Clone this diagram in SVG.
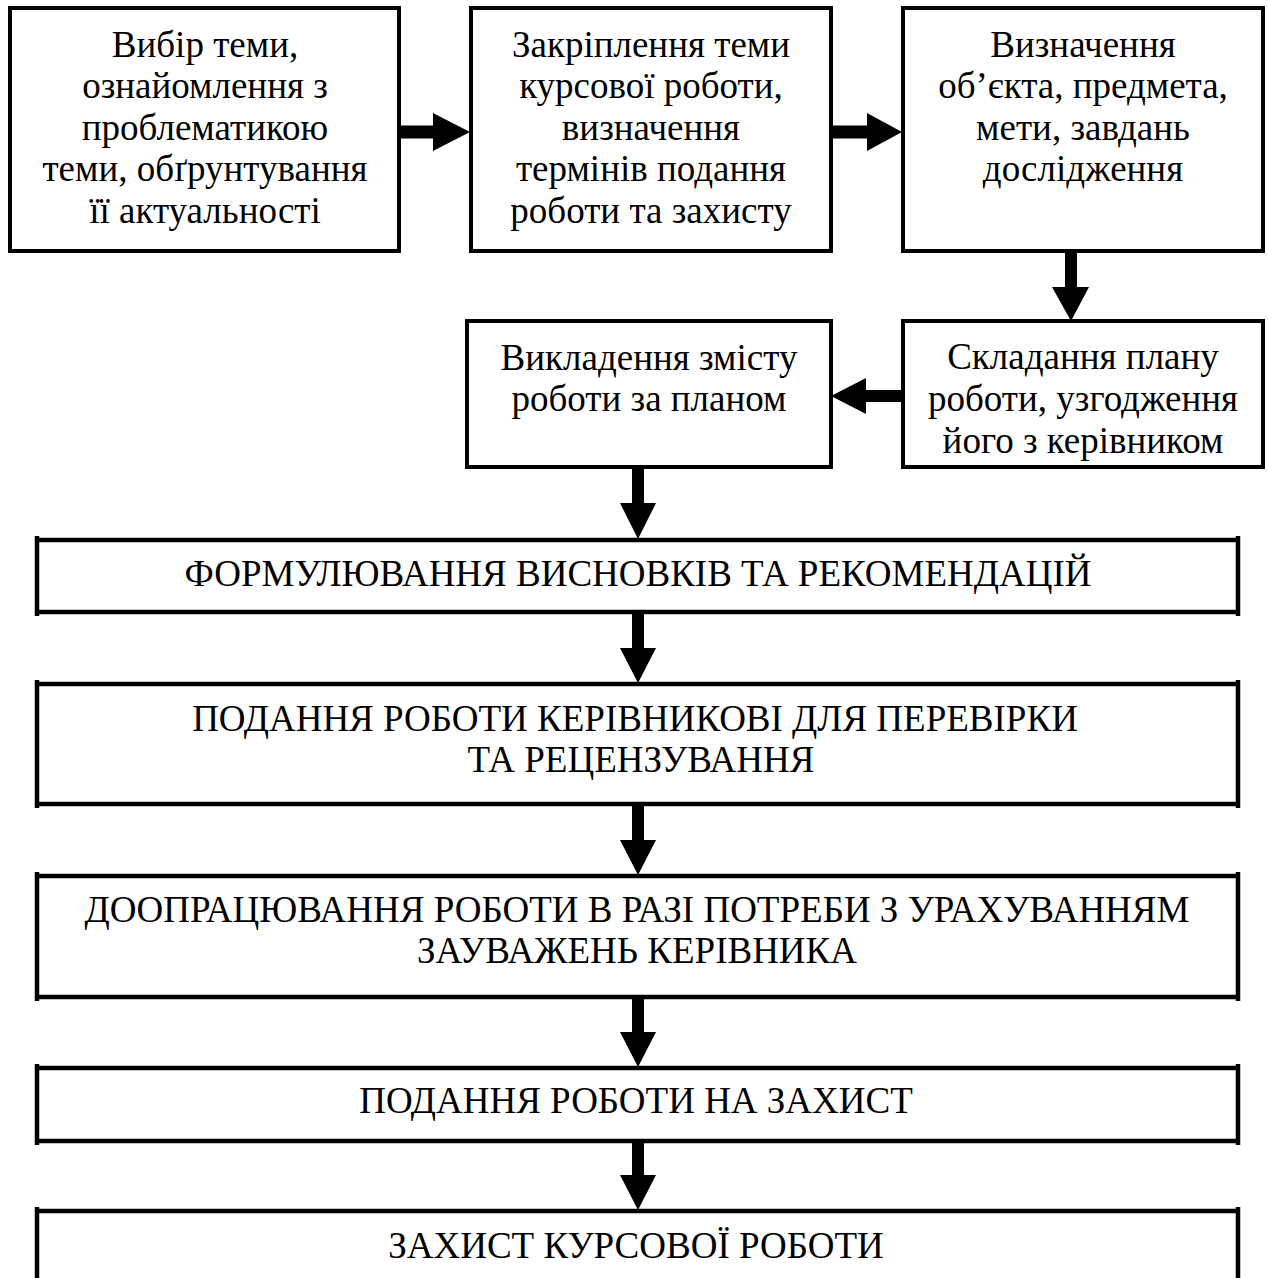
<svg xmlns="http://www.w3.org/2000/svg" width="1268" height="1278" viewBox="0 0 1268 1278">
<style>
.box{fill:#fff;stroke:#000;stroke-width:4}
.wide{fill:none;stroke:#000;stroke-width:4.5}
.t{font-family:"Liberation Serif","Times New Roman",serif;font-size:37px;fill:#000;text-anchor:middle}
.ar{fill:#000;stroke:none}
</style>
<rect width="1268" height="1278" fill="#fff"/>
<g id="connectors">
<path class="ar" d="M399,125.5H434V138.5H399Z M433,113L470,132L433,151Z"/>
<path class="ar" d="M831,125.5H868V138.5H831Z M867,113L902,132L867,151Z"/>
<path class="ar" d="M1065,251H1077V288H1065Z M1052,287L1089,287L1071,321Z"/>
<path class="ar" d="M866,390H903V402H866Z M866,378L831,396L866,414Z"/>
<path class="ar" d="M632,467H644V504H632Z M620,503L656,503L638,539Z"/>
<path class="ar" d="M632,612H644V649H632Z M620,648L656,648L638,683Z"/>
<path class="ar" d="M632,804H644V841H632Z M620,840L656,840L638,875Z"/>
<path class="ar" d="M632,997H644V1033H632Z M620,1032L656,1032L638,1067Z"/>
<path class="ar" d="M632,1141H644V1176H632Z M620,1175L656,1175L638,1210Z"/>
</g>
<g id="n1">
<rect class="box" x="10" y="8" width="389" height="243"/>
<text class="t" x="205" y="57">Вибір теми,</text>
<text class="t" x="205" y="98">ознайомлення з</text>
<text class="t" x="205" y="140">проблематикою</text>
<text class="t" x="205" y="181">теми, обґрунтування</text>
<text class="t" x="205" y="223">її актуальності</text>
</g>
<g id="n2">
<rect class="box" x="471" y="8" width="360" height="243"/>
<text class="t" x="651" y="57">Закріплення теми</text>
<text class="t" x="651" y="98">курсової роботи,</text>
<text class="t" x="651" y="140">визначення</text>
<text class="t" x="651" y="181">термінів подання</text>
<text class="t" x="651" y="223">роботи та захисту</text>
</g>
<g id="n3">
<rect class="box" x="903" y="8" width="360" height="243"/>
<text class="t" x="1083" y="57">Визначення</text>
<text class="t" x="1083" y="98">об’єкта, предмета,</text>
<text class="t" x="1083" y="140">мети, завдань</text>
<text class="t" x="1083" y="181">дослідження</text>
</g>
<g id="n4">
<rect class="box" x="903" y="321" width="360" height="146"/>
<text class="t" x="1083" y="369">Складання плану</text>
<text class="t" x="1083" y="411">роботи, узгодження</text>
<text class="t" x="1083" y="453">його з керівником</text>
</g>
<g id="n5">
<rect class="box" x="467" y="321" width="364" height="146"/>
<text class="t" x="649" y="370">Викладення змісту</text>
<text class="t" x="649" y="411">роботи за планом</text>
</g>
<g id="n6">
<path class="wide" d="M37,540H1238M37,612H1238M37,536V616M1238,536V616"/>
<text class="t" x="638" y="586">ФОРМУЛЮВАННЯ ВИСНОВКІВ ТА РЕКОМЕНДАЦІЙ</text>
</g>
<g id="n7">
<path class="wide" d="M37,684H1238M37,804H1238M37,680V808M1238,680V808"/>
<text class="t" x="635" y="731">ПОДАННЯ РОБОТИ КЕРІВНИКОВІ ДЛЯ ПЕРЕВІРКИ</text>
<text class="t" x="641" y="772">ТА РЕЦЕНЗУВАННЯ</text>
</g>
<g id="n8">
<path class="wide" d="M37,876H1238M37,997H1238M37,872V1001M1238,872V1001"/>
<text class="t" x="637" y="922">ДООПРАЦЮВАННЯ РОБОТИ В РАЗІ ПОТРЕБИ З УРАХУВАННЯМ</text>
<text class="t" x="637" y="963">ЗАУВАЖЕНЬ КЕРІВНИКА</text>
</g>
<g id="n9">
<path class="wide" d="M37,1068H1238M37,1141H1238M37,1064V1145M1238,1064V1145"/>
<text class="t" x="636" y="1113">ПОДАННЯ РОБОТИ НА ЗАХИСТ</text>
</g>
<g id="n10">
<path class="wide" d="M37,1211H1238M37,1207V1280M1238,1207V1280"/>
<text class="t" x="636" y="1258">ЗАХИСТ КУРСОВОЇ РОБОТИ</text>
</g>
</svg>
